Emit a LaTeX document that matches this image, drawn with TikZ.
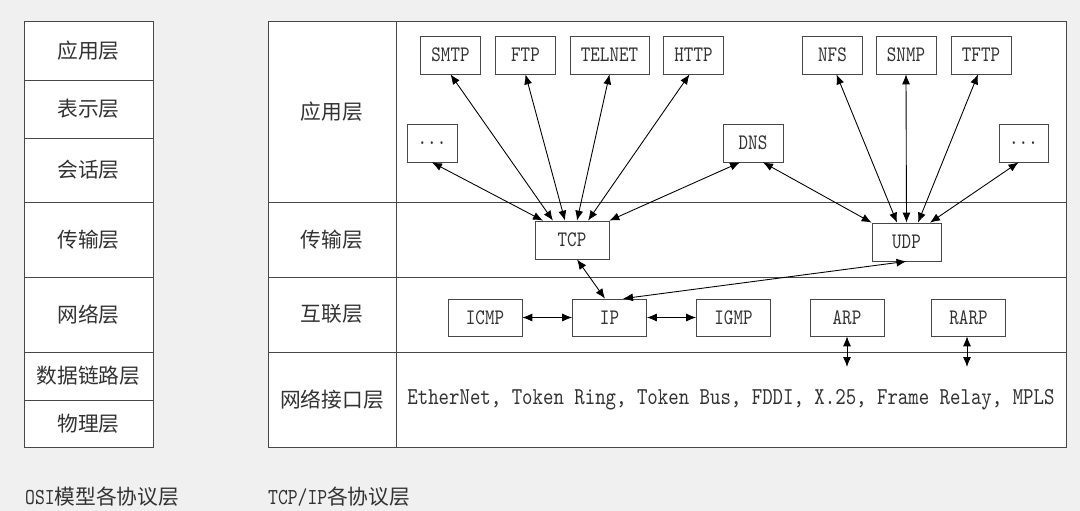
\documentclass[tikz,border=0pt]{standalone}
\usepackage{fontspec}
\newfontfamily\cjk{Noto Sans CJK SC}
\newfontfamily\protofont{lmmono10-regular.otf}[FakeStretch=0.82]
\usepackage{xcolor}
\usetikzlibrary{arrows.meta, calc}
\definecolor{bgGray}{RGB}{240,240,240}
\definecolor{lnGray}{RGB}{72,72,72}
\definecolor{txGray}{RGB}{50,50,50}

\begin{document}
\begin{tikzpicture}[x=0.02cm, y=-0.02cm,
    proto/.style={draw=lnGray, fill=white, minimum width=1.2cm, minimum height=0.76cm,
                  inner sep=0pt, text=txGray, font=\protofont\fontsize{12.6}{14}\selectfont},
    layer/.style={text=txGray, font=\cjk\fontsize{11.8}{14}\selectfont},
    caption/.style={anchor=west, text=txGray, font=\protofont\fontsize{13}{14}\selectfont},
    link/.style={{Latex[length=2mm, width=1.6mm]}-{Latex[length=2mm, width=1.6mm]},
                 line width=0.5pt}
  ]
  \fill[bgGray] (0,0) rectangle (1080,511);
  \useasboundingbox (0,0) rectangle (1080,511);

  % OSI model
  \fill[white] (24,21) rectangle (153,447);
  \foreach \t/\b/\name/\txt in {21/80/osiApp/应用层, 80/138/osiPre/表示层,
      138/202/osiSes/会话层, 202/277/osiTra/传输层, 277/352/osiNet/网络层,
      352/400/osiLnk/数据链路层, 400/447/osiPhy/物理层} {
    \draw[lnGray] (24,\t) rectangle (153,\b);
    \node[layer] (\name) at (88.5,{(\t+\b)/2}) {\txt};
  }
  \node[caption] (osiCap) at (19,497) {OSI{\cjk\fontsize{11.8}{14}\selectfont 模型各协议层}};

  % TCP/IP model
  \fill[white] (268,21) rectangle (1066,447);
  \draw[lnGray] (268,21) rectangle (1066,447);
  \draw[lnGray] (396,21) -- (396,447);
  \foreach \y in {202,277,352}
    \draw[lnGray] (268,\y) -- (1066,\y);
  \node[layer] (tcpApp) at (332,112) {应用层};
  \node[layer] (tcpTra) at (332,240) {传输层};
  \node[layer] (tcpInt) at (332,314) {互联层};
  \node[layer] (tcpNet) at (332,400) {网络接口层};
  \node[caption] (tcpCap) at (262,497) {TCP/IP{\cjk\fontsize{11.8}{14}\selectfont 各协议层}};

  % application protocols
  \node[proto] (smtp) at (450.5,55) {SMTP};
  \node[proto] (ftp) at (525.5,55) {FTP};
  \node[proto, minimum width=1.58cm] (telnet) at (609.5,55) {TELNET};
  \node[proto] (http) at (693.5,55) {HTTP};
  \node[proto] (nfs) at (832.5,55) {NFS};
  \node[proto] (snmp) at (906,55) {SNMP};
  \node[proto] (tftp) at (981,55) {TFTP};
  \node[proto, minimum width=1cm] (etcL) at (432,143) {...};
  \node[proto] (dns) at (753,143) {DNS};
  \node[proto, minimum width=0.98cm] (etcR) at (1023.5,143) {...};

  % transport
  \node[proto, minimum width=1.48cm] (tcp) at (572,240) {TCP};
  \node[proto, minimum width=1.38cm] (udp) at (906.5,242) {UDP};

  % internet
  \foreach \x/\name/\txt in {485/icmp/ICMP, 609.5/ip/IP, 733.5/igmp/IGMP,
      847/arp/ARP, 968.5/rarp/RARP}
    \node[proto, minimum width=1.48cm, minimum height=0.74cm] (\name) at (\x,317.5) {\txt};
  \coordinate (arpEnd) at (847,367);
  \coordinate (rarpEnd) at (967,367);

  % network interface
  \node[text=txGray, font=\protofont\fontsize{13.8}{15}\selectfont] (links) at (731,400)
       {EtherNet, Token Ring, Token Bus, FDDI, X.25, Frame Relay, MPLS};

  % connectors
  \draw[link] (etcL.south) -- ($(tcp.north)+(-29,0)$);
  \draw[link] (smtp.south) -- ($(tcp.north)+(-19,0)$);
  \draw[link] (ftp.south) -- ($(tcp.north)+(-7,0)$);
  \draw[link] (telnet.south) -- ($(tcp.north)+(5,0)$);
  \draw[link] ($(http.south)+(-4,0)$) -- ($(tcp.north)+(16,0)$);
  \draw[link] ($(dns.south)+(-13,0)$) -- (tcp.north east);
  \draw[link] ($(dns.south)+(10,0)$) -- (udp.north west);
  \draw[link] ($(nfs.south)+(4,0)$) -- ($(udp.north)+(-9.5,0)$);
  \draw[link] (snmp.south) -- (udp.north);
  \draw[link] ($(tftp.south)+(-3,0)$) -- ($(udp.north)+(11.5,0)$);
  \draw[link] ($(etcR.south)+(-5,0)$) -- ($(udp.north)+(23.5,0)$);
  \draw[link] ($(tcp.south)+(5,0)$) -- ($(ip.north)+(-4.5,0)$);
  \draw[link] (udp.south) -- ($(ip.north)+(13.5,0)$);
  \draw[link] (icmp.east) -- (ip.west);
  \draw[link] (ip.east) -- (igmp.west);
  \draw[link] (arp.south) -- (arpEnd);
  \draw[link] ($(rarp.south)+(-1.5,0)$) -- (rarpEnd);
\end{tikzpicture}
\end{document}
